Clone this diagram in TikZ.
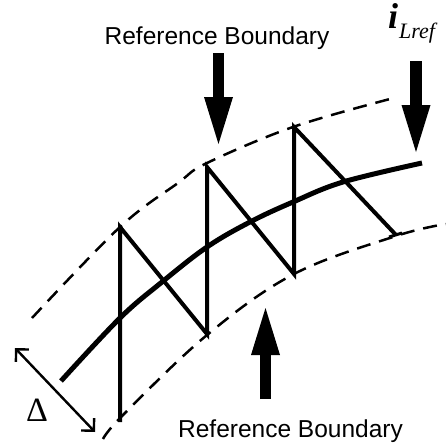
\documentclass[tikz,border=0pt]{standalone}
\usepackage{fontspec}
\setmainfont{Liberation Serif}
\newfontfamily\labelsans{Liberation Sans}
\usetikzlibrary{arrows.meta}
\begin{document}
\begin{tikzpicture}[x=1pt,y=-1pt,
  bound/.style={line width=2.5pt, dash pattern=on 14pt off 9pt},
  refcurve/.style={line width=5pt},
  zig/.style={line width=4pt, line join=miter},
  bigarrow/.style={line width=11.5pt, -{Triangle[length=47pt,width=29pt,line width=0pt 0]}},
  deltaarrow/.style={line width=2.4pt, {Straight Barb[angle=90:12.7pt,line width=0pt 1]}-{Straight Barb[angle=90:12.7pt,line width=0pt 1]}},
  boundlabel/.style={font=\labelsans\fontsize{24.5}{28}\selectfont, inner sep=0pt, anchor=base}
]
\useasboundingbox (0,0) rectangle (446,447);

% labels
\node[boundlabel] (toplabel) at (217,44) {Reference Boundary};
\node[boundlabel] (botlabel) at (290.5,437) {Reference Boundary};
\node[inner sep=0pt, anchor=base west] (ilref) at (388,28)
  {\fontsize{36}{36}\selectfont\bfseries\itshape i\hspace{1pt}\raisebox{-10pt}{\fontsize{22}{22}\selectfont\mdseries\itshape Lref}};
\node[inner sep=0pt, anchor=center, font=\fontsize{34}{34}\selectfont] (delta) at (37,410) {Δ};

% upper and lower reference boundaries
\draw[bound] plot[smooth, tension=0.6] coordinates {(32,318) (120,227) (178,183) (207,163) (293,127) (390,99)};
\draw[bound] plot[smooth, tension=0.6] coordinates {(103,439) (123,415) (207,335) (294,274) (396,236) (446,224)};

% reference current
\draw[refcurve] plot[smooth, tension=0.6] coordinates {(61,381) (120,318) (162,282) (207,247) (250,222) (293,202) (343,182) (422,163)};

% zigzag inductor current
\coordinate (z1) at (120,422);
\coordinate (z2) at (120,227);
\coordinate (z3) at (207,334);
\coordinate (z4) at (207,167);
\coordinate (z5) at (294,274);
\coordinate (z6) at (294,127);
\coordinate (z7) at (396,235);
\draw[zig] (z1) -- (z2) -- (z3) -- (z4) -- (z5) -- (z6) -- (z7);
\coordinate (t1) at (389,237);
\coordinate (t2) at (402,233);
\draw[line width=3pt] (t1) -- (t2);

% pointer arrows
\coordinate (a1s) at (218.5,53);
\coordinate (a1t) at (218.5,144);
\coordinate (a2s) at (416,61);
\coordinate (a2t) at (416,152);
\coordinate (a3s) at (265.5,399);
\coordinate (a3t) at (265.5,308);
\draw[bigarrow] (a1s) -- (a1t);
\draw[bigarrow] (a2s) -- (a2t);
\draw[bigarrow] (a3s) -- (a3t);

% width of band
\coordinate (d1) at (15,348);
\coordinate (d2) at (95,432);
\draw[deltaarrow] (d1) -- (d2);
\end{tikzpicture}
\end{document}
